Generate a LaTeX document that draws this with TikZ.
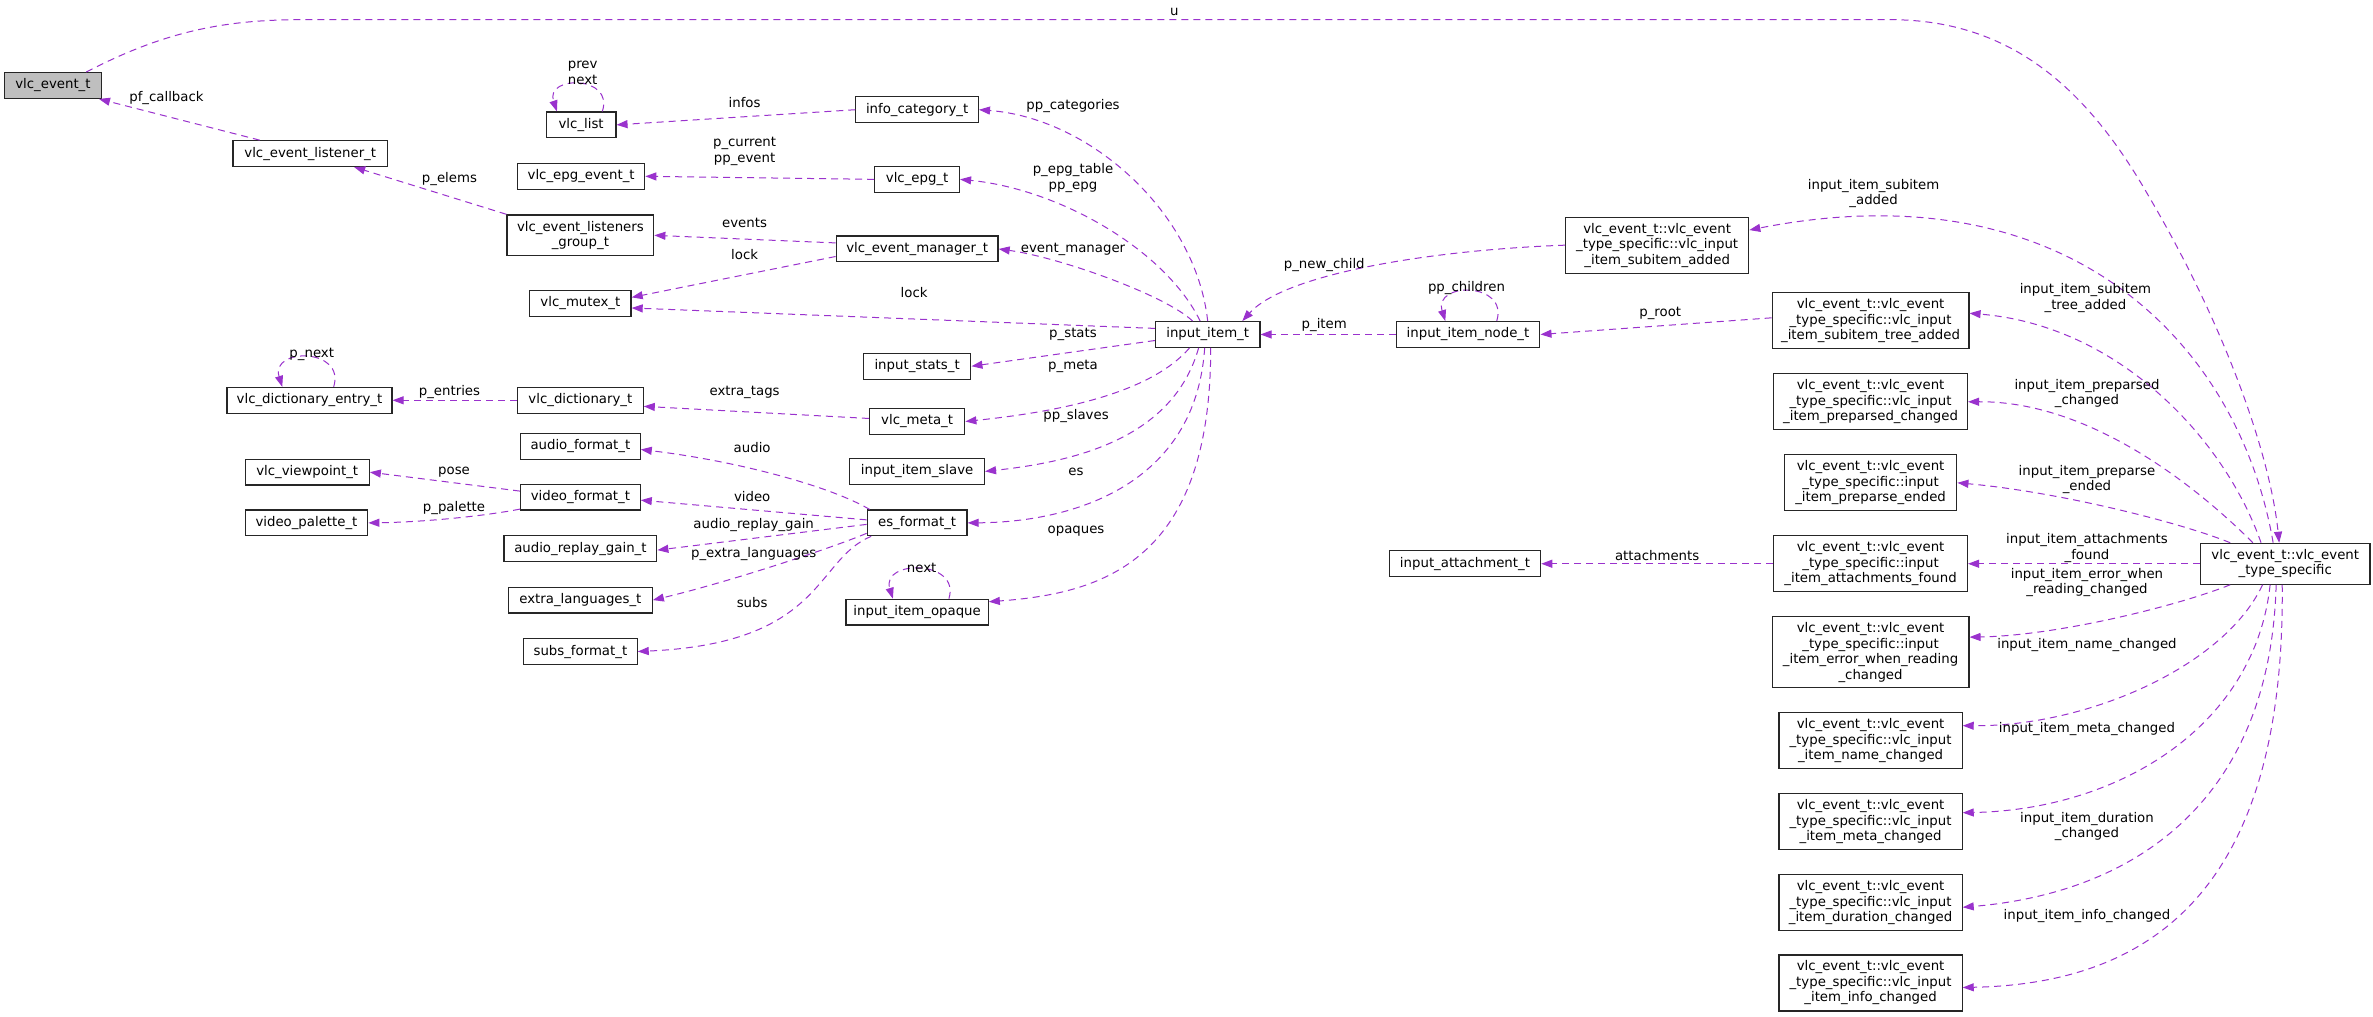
\documentclass[tikz,border=0pt]{standalone}
\usepackage{fontspec}
\setmainfont{DejaVu Sans}
\usetikzlibrary{arrows.meta,calc}
\definecolor{pc}{RGB}{154,50,205}
\tikzset{
  box/.style={draw=black!85,line width=1.2pt,rectangle,inner sep=0pt,align=center,font=\fontsize{13.3}{15.5}\selectfont},
  lbl/.style={inner sep=0pt,align=center,font=\fontsize{13.3}{15.5}\selectfont},
  edge/.style={draw=pc,line width=1pt,dash pattern=on 7pt off 5pt,-{Triangle[length=11pt,width=8pt]}}
}
\newcommand\bx[6]{\node[box,minimum width=#4*1.5134pt,minimum height=#5*1.5134pt] (#1) at (#2,#3) {#6};}
\begin{document}
\begin{tikzpicture}[x=1.5134pt,y=-1.5134pt]
\useasboundingbox[fill=white] (0,0) rectangle (1568,671.4);
% left
\bx{evt}{35}{56.5}{64}{17}{vlc\_event\_t}
\fill[black!25] (evt.south west) rectangle (evt.north east);
\node[box,minimum width=64*1.5134pt,minimum height=17*1.5134pt] at (35,56.5) {vlc\_event\_t};
\bx{lst}{205}{101.5}{102}{17}{vlc\_event\_listener\_t}
\bx{vl}{384}{82.5}{46}{17}{vlc\_list}
\bx{epge}{384}{116.5}{84}{17}{vlc\_epg\_event\_t}
\bx{grp}{383.5}{155.5}{97}{27}{vlc\_event\_listeners\\\_group\_t}
\bx{mx}{383.5}{200.5}{67}{17}{vlc\_mutex\_t}
\bx{de}{204.5}{264.5}{109}{17}{vlc\_dictionary\_entry\_t}
\bx{dict}{383.5}{264.5}{83}{17}{vlc\_dictionary\_t}
\bx{afm}{383.5}{295}{79}{17}{audio\_format\_t}
\bx{vp}{203}{312}{82}{17}{vlc\_viewpoint\_t}
\bx{vf}{383.5}{328.5}{79}{17}{video\_format\_t}
\bx{vpal}{202.5}{345.5}{81}{17}{video\_palette\_t}
\bx{arg}{383.5}{362.5}{101}{17}{audio\_replay\_gain\_t}
\bx{el}{383.5}{396.5}{95}{17}{extra\_languages\_t}
\bx{sf}{383.5}{430.5}{75}{17}{subs\_format\_t}
% middle
\bx{ic}{606}{72.5}{81}{17}{info\_category\_t}
\bx{epg}{606}{118.5}{56}{17}{vlc\_epg\_t}
\bx{em}{606}{164.5}{107}{17}{vlc\_event\_manager\_t}
\bx{ist}{606}{242}{71}{17}{input\_stats\_t}
\bx{meta}{606}{278.5}{63}{17}{vlc\_meta\_t}
\bx{sl}{606}{311.5}{89}{17}{input\_item\_slave}
\bx{es}{606}{345.5}{66}{17}{es\_format\_t}
\bx{op}{606}{404.5}{94}{17}{input\_item\_opaque}
\bx{ii}{798}{221}{69}{17}{input\_item\_t}
\bx{nd}{970}{221}{95}{17}{input\_item\_node\_t}
\bx{iat}{968}{372.5}{100}{17}{input\_attachment\_t}
\bx{sa}{1095}{162}{121}{37}{vlc\_event\_t::vlc\_event\\\_type\_specific::vlc\_input\\\_item\_subitem\_added}
% right column
\bx{st}{1236}{212}{130}{37}{vlc\_event\_t::vlc\_event\\\_type\_specific::vlc\_input\\\_item\_subitem\_tree\_added}
\bx{pp}{1236}{265.5}{128}{37}{vlc\_event\_t::vlc\_event\\\_type\_specific::vlc\_input\\\_item\_preparsed\_changed}
\bx{pe}{1236}{319}{114}{37}{vlc\_event\_t::vlc\_event\\\_type\_specific::input\\\_item\_preparse\_ended}
\bx{attf}{1236}{372.5}{128}{37}{vlc\_event\_t::vlc\_event\\\_type\_specific::input\\\_item\_attachments\_found}
\bx{er}{1236}{431}{130}{47}{vlc\_event\_t::vlc\_event\\\_type\_specific::input\\\_item\_error\_when\_reading\\\_changed}
\bx{nm}{1236}{489.5}{121}{37}{vlc\_event\_t::vlc\_event\\\_type\_specific::vlc\_input\\\_item\_name\_changed}
\bx{mt}{1236}{543}{121}{37}{vlc\_event\_t::vlc\_event\\\_type\_specific::vlc\_input\\\_item\_meta\_changed}
\bx{du}{1236}{596.5}{121}{37}{vlc\_event\_t::vlc\_event\\\_type\_specific::vlc\_input\\\_item\_duration\_changed}
\bx{inf}{1236}{649.5}{121}{37}{vlc\_event\_t::vlc\_event\\\_type\_specific::vlc\_input\\\_item\_info\_changed}
\bx{ts}{1510}{372.5}{112}{27}{vlc\_event\_t::vlc\_event\\\_type\_specific}
% edges
\draw[edge] ($(lst.north west)+(18,0)$) -- ($(evt.south east)+(-2,0)$);
\draw[edge] (grp.north west) -- ($(lst.south)+(29,0)$);
\draw[edge] ($(vl.north)+(14,0)$) .. controls ($(vl.north)+(22,-24)$) and ($(vl.north)+(-24,-24)$) .. ($(vl.north)+(-16,0)$);
\draw[edge] (ic.west) -- (vl.east);
\draw[edge] (epg.west) -- (epge.east);
\draw[edge] ($(em.west)+(0,-4)$) -- (grp.east);
\draw[edge] ($(em.west)+(0,5)$) -- ($(mx.east)+(0,-4)$);
\draw[edge] ($(ii.west)+(0,-4)$) -- ($(mx.east)+(0,3)$);
\draw[edge] ($(de.north)+(16,0)$) .. controls ($(de.north)+(24,-26)$) and ($(de.north)+(-26,-26)$) .. ($(de.north)+(-18,0)$);
\draw[edge] (dict.west) -- (de.east);
\draw[edge] ($(meta.west)+(0,-2)$) -- ($(dict.east)+(0,4)$);
\draw[edge] ($(vf.west)+(0,-4)$) -- (vp.east);
\draw[edge] ($(vf.south west)+(0,-1)$) .. controls (320,341) and (280,345) .. (vpal.east);
\draw[edge] ($(es.north west)+(2,0)$) .. controls (550,322) and (490,305) .. ($(afm.east)+(0,2)$);
\draw[edge] ($(es.west)+(0,-2)$) -- ($(vf.east)+(0,2)$);
\draw[edge] ($(es.west)+(0,1)$) -- ($(arg.east)+(0,1)$);
\draw[edge] ($(es.south west)+(0,-2)$) .. controls (550,362) and (480,385) .. (el.east);
\draw[edge] ($(es.south west)+(3,0)$) .. controls (538,370) and (545,425) .. (sf.east);
\draw[edge] (ii.north) .. controls (790,140) and (720,78) .. (ic.east);
\draw[edge] ($(ii.north)+(-5,0)$) .. controls (770,165) and (700,125) .. (epg.east);
\draw[edge] ($(ii.north)+(-10,0)$) .. controls (770,195) and (700,170) .. (em.east);
\draw[edge] ($(ii.west)+(0,4)$) -- (ist.east);
\draw[edge] ($(ii.south)+(-12,0)$) .. controls (760,260) and (700,272) .. (meta.east);
\draw[edge] ($(ii.south)+(-6,0)$) .. controls (775,290) and (710,305) .. (sl.east);
\draw[edge] ($(ii.south)+(-2,0)$) .. controls (790,320) and (710,345) .. (es.east);
\draw[edge] ($(ii.south)+(2,0)$) .. controls (800,370) and (730,392) .. ($(op.north east)+(0,2)$);
\draw[edge] ($(op.north)+(21,0)$) .. controls ($(op.north)+(29,-26)$) and ($(op.north)+(-24,-26)$) .. ($(op.north)+(-16,0)$);
\draw[edge] (nd.west) -- (ii.east);
\draw[edge] (sa.west) .. controls (950,165) and (850,180) .. ($(ii.north east)+(-12,0)$);
\draw[edge] ($(nd.north)+(19,0)$) .. controls ($(nd.north)+(27,-26)$) and ($(nd.north)+(-23,-26)$) .. ($(nd.north)+(-15,0)$);
\draw[edge] ($(st.west)+(0,-2)$) -- (nd.east);
\draw[edge] (attf.west) -- (iat.east);
\draw[edge] ($(evt.north)+(22,0)$) .. controls (110,20) and (150,13) .. (200,13) -- (1249,13) .. controls (1330,13) and (1380,60) .. (1420,130) .. controls (1470,215) and (1500,300) .. ($(ts.north)+(-4,0)$);
\draw[edge] ($(ts.north)+(-8,0)$) .. controls (1480,230) and (1370,110) .. ($(sa.east)+(0,-10)$);
\draw[edge] ($(ts.north)+(-16,0)$) .. controls (1470,290) and (1400,215) .. ($(st.east)+(0,-5)$);
\draw[edge] ($(ts.north west)+(35,0)$) .. controls (1450,320) and (1380,265) .. (pp.east);
\draw[edge] ($(ts.north west)+(20,0)$) .. controls (1440,345) and (1360,325) .. (pe.east);
\draw[edge] (ts.west) -- (attf.east);
\draw[edge] ($(ts.south west)+(20,0)$) .. controls (1440,400) and (1360,420) .. ($(er.east)+(0,-10)$);
\draw[edge] ($(ts.south)+(-15,0)$) .. controls (1470,440) and (1380,480) .. ($(nm.east)+(0,-10)$);
\draw[edge] ($(ts.south)+(-10,0)$) .. controls (1490,480) and (1400,535) .. ($(mt.east)+(0,-6)$);
\draw[edge] ($(ts.south)+(-6,0)$) .. controls (1500,530) and (1410,590) .. ($(du.east)+(0,3)$);
\draw[edge] ($(ts.south)+(-2,0)$) .. controls (1510,590) and (1420,650) .. ($(inf.east)+(0,3)$);
% labels
\node[lbl] (l1) at (776,8) {u};
\node[lbl] (l2) at (110,64.6) {pf\_callback};
\node[lbl] (l3) at (297,118) {p\_elems};
\node[lbl] (l4) at (385,48) {prev\\next};
\node[lbl] (l5) at (492,68) {infos};
\node[lbl] (l6) at (492,100) {p\_current\\pp\_event};
\node[lbl] (l7) at (492,147) {events};
\node[lbl] (l8) at (492,168) {lock};
\node[lbl] (l9) at (206,234) {p\_next};
\node[lbl] (l10) at (297,259) {p\_entries};
\node[lbl] (l11) at (492,259) {extra\_tags};
\node[lbl] (l12) at (300,312) {pose};
\node[lbl] (l13) at (300,336) {p\_palette};
\node[lbl] (l14) at (497,296) {audio};
\node[lbl] (l15) at (497,328) {video};
\node[lbl] (l16) at (498,347) {audio\_replay\_gain};
\node[lbl] (l17) at (498,366) {p\_extra\_languages};
\node[lbl] (l18) at (497,398) {subs};
\node[lbl] (l19) at (709,70) {pp\_categories};
\node[lbl] (l20) at (709,117.5) {p\_epg\_table\\pp\_epg};
\node[lbl] (l21) at (709,165) {event\_manager};
\node[lbl] (l22) at (604,193) {lock};
\node[lbl] (l23) at (709,221) {p\_stats};
\node[lbl] (l24) at (709,242) {p\_meta};
\node[lbl] (l25) at (711,275) {pp\_slaves};
\node[lbl] (l26) at (711,312) {es};
\node[lbl] (l27) at (711,351) {opaques};
\node[lbl] (l28) at (609,375) {next};
\node[lbl] (l29) at (875,175) {p\_new\_child};
\node[lbl] (l30) at (969,190) {pp\_children};
\node[lbl] (l31) at (875,215) {p\_item};
\node[lbl] (l32) at (1097,207) {p\_root};
\node[lbl] (l33) at (1238,128) {input\_item\_subitem\\\_added};
\node[lbl] (l34) at (1378,197) {input\_item\_subitem\\\_tree\_added};
\node[lbl] (l35) at (1379,260) {input\_item\_preparsed\\\_changed};
\node[lbl] (l36) at (1379,317) {input\_item\_preparse\\\_ended};
\node[lbl] (l37) at (1379,362) {input\_item\_attachments\\\_found};
\node[lbl] (l38) at (1379,385) {input\_item\_error\_when\\\_reading\_changed};
\node[lbl] (l39) at (1379,426) {input\_item\_name\_changed};
\node[lbl] (l40) at (1379,482) {input\_item\_meta\_changed};
\node[lbl] (l41) at (1379,546) {input\_item\_duration\\\_changed};
\node[lbl] (l42) at (1379,605) {input\_item\_info\_changed};
\node[lbl] (l43) at (1095,367) {attachments};
\end{tikzpicture}
\end{document}
